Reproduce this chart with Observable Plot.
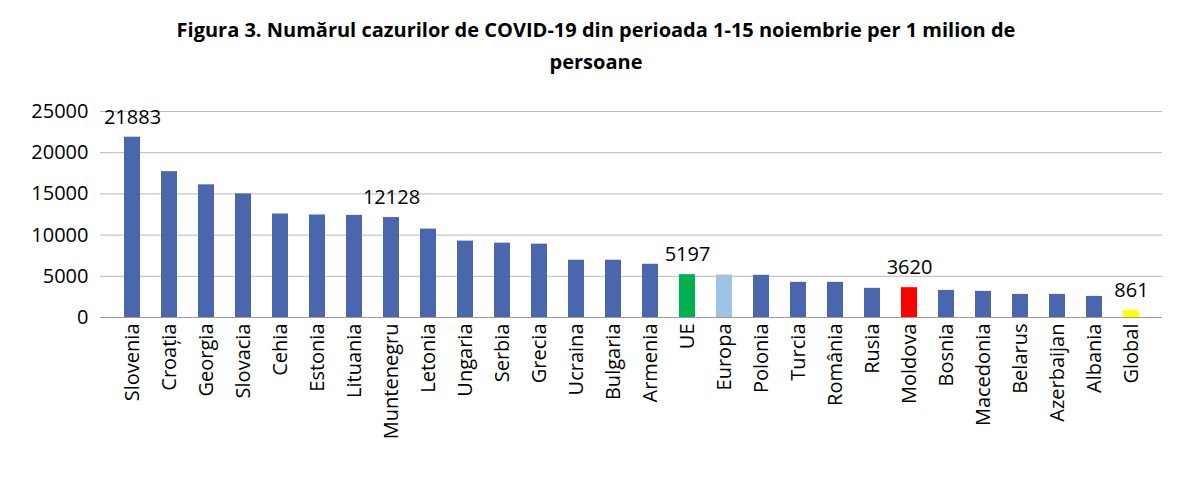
<!DOCTYPE html>
<html><head><meta charset="utf-8">
<script src="https://cdn.jsdelivr.net/npm/d3@7"></script>
<script src="https://cdn.jsdelivr.net/npm/@observablehq/plot@0.6"></script>
<style>
body{margin:0;background:#fff;font-family:"Open Sans",Calibri,sans-serif;}
#t{width:1192px;text-align:center;font-weight:bold;font-size:20px;line-height:32px;padding-top:14px;height:71px;box-sizing:content-box;}
</style></head><body>
<div id="t">Figura 3. Numărul cazurilor de COVID-19 din perioada 1-15 noiembrie per 1 milion de<br>persoane</div>
<div id="c"></div>
<script>
const countries=["Slovenia","Croația","Georgia","Slovacia","Cehia","Estonia","Lituania","Muntenegru","Letonia","Ungaria","Serbia","Grecia","Ucraina","Bulgaria","Armenia","UE","Europa","Polonia","Turcia","România","Rusia","Moldova","Bosnia","Macedonia","Belarus","Azerbaijan","Albania","Global"];
const values=[21883,17700,16100,15000,12560,12440,12400,12128,10730,9270,9020,8900,6950,6950,6460,5197,5150,5120,4270,4270,3540,3620,3290,3170,2800,2800,2560,861];
const labeled=["Slovenia","Muntenegru","UE","Moldova","Global"];
const colorOf={UE:"#00b050",Europa:"#9dc3e6",Moldova:"#ff0000",Global:"#ffff00"};
const data=countries.map((c,i)=>({c,v:values[i],col:colorOf[c]||"#4a66ac"}));
const chart=Plot.plot({
  width:1192,height:396,marginTop:26,marginLeft:100,marginRight:30,marginBottom:164,
  style:{fontSize:"20px",fontFamily:"Open Sans, sans-serif",color:"#000"},
  x:{domain:countries,padding:0.57,label:null,tickRotate:-90,tickSize:0,tickPadding:6},
  y:{domain:[0,25000],ticks:[0,5000,10000,15000,20000,25000],tickFormat:"d",label:null,tickSize:0,tickPadding:12},
  marks:[
    Plot.gridY([5000,10000,15000,20000,25000],{stroke:"#bbb",strokeOpacity:1}),
    Plot.barY(data,{x:"c",y:"v",fill:"col"}),
    Plot.ruleY([0],{stroke:"#999"}),
    Plot.text(data.filter(d=>labeled.includes(d.c)),{x:"c",y:"v",text:d=>String(d.v),dy:-20,fontSize:20})
  ]
});
document.getElementById("c").appendChild(chart);
</script></body></html>
